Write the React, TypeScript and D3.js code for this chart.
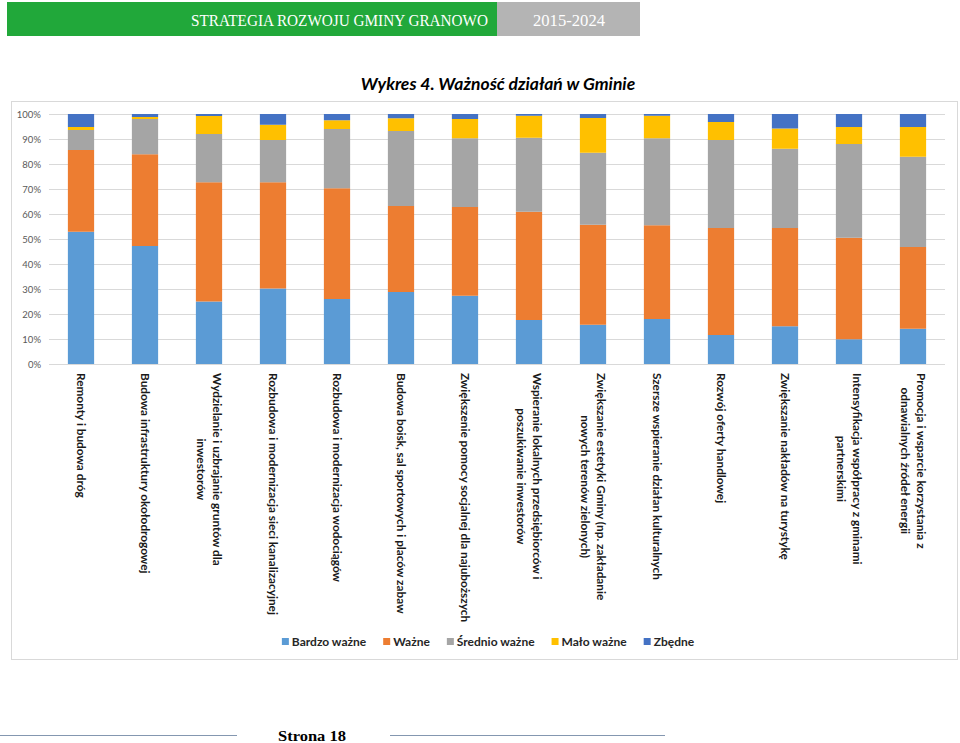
import React, { useEffect, useRef } from "react";
import * as d3 from "d3";

const categories: string[][] = [
  ["Remonty i budowa dróg"],
  ["Budowa infrastruktury okołodrogowej"],
  ["Wydzielanie i uzbrajanie gruntów dla", "inwestorów"],
  ["Rozbudowa i modernizacja sieci kanalizacyjnej"],
  ["Rozbudowa i modernizacja wodociągów"],
  ["Budowa boisk, sal sportowych i placów zabaw"],
  ["Zwiększenie pomocy socjalnej dla najuboższych"],
  ["Wspieranie lokalnych przedsiębiorców i", "poszukiwanie inwestorów"],
  ["Zwiększanie estetyki Gminy (np. zakładanie", "nowych terenów zielonych)"],
  ["Szersze wspieranie działan kulturalnych"],
  ["Rozwój oferty handlowej"],
  ["Zwiększanie nakładów na turystykę"],
  ["Intensyfikacja współpracy z gminami", "partnerskimi"],
  ["Promocja i wsparcie korzystania z", "odnawialnych źródeł energii"],
];

const seriesNames = ["Bardzo ważne", "Ważne", "Średnio ważne", "Mało ważne", "Zbędne"];
const seriesColors = ["#5B9BD5", "#ED7D31", "#A5A5A5", "#FFC000", "#4472C4"];

const bardzoWazne = [52.9, 47.2, 25.0, 30.2, 26.0, 28.8, 27.3, 17.6, 15.7, 18.0, 11.6, 15.1, 9.9, 14.1];
const wazne = [32.7, 36.7, 47.7, 42.5, 44.3, 34.4, 35.5, 43.3, 40.0, 37.5, 42.8, 39.3, 40.6, 32.7];
const srednioWazne = [8.0, 14.1, 19.3, 16.9, 23.7, 30.0, 27.5, 29.6, 28.8, 34.8, 35.2, 31.7, 37.5, 36.1];
const maloWazne = [1.2, 0.8, 7.2, 6.1, 3.5, 5.1, 7.7, 8.8, 13.9, 9.0, 7.2, 8.1, 6.8, 11.9];
const zbedne = [5.2, 1.2, 0.8, 4.3, 2.5, 1.7, 2.0, 0.7, 1.6, 0.7, 3.2, 5.8, 5.2, 5.2];

const yTicks = [0, 10, 20, 30, 40, 50, 60, 70, 80, 90, 100];

const FONT = "Lato, 'Open Sans', sans-serif";

export default function App() {
  const ref = useRef<SVGSVGElement | null>(null);

  useEffect(() => {
    const svg = d3.select(ref.current);
    svg.selectAll("*").remove();

    // Header
    svg.append("rect").attr("x", 7).attr("y", 2).attr("width", 490).attr("height", 34).attr("fill", "#21A83A");
    svg.append("rect").attr("x", 497).attr("y", 2).attr("width", 143).attr("height", 34).attr("fill", "#B4B4B4");
    svg.append("text").attr("x", 191).attr("y", 26).attr("text-anchor", "start")
      .attr("font-family", "'Liberation Serif', serif").attr("font-size", 17).attr("fill", "#fff")
      .attr("textLength", 297).attr("lengthAdjust", "spacingAndGlyphs")
      .text("STRATEGIA ROZWOJU GMINY GRANOWO");
    svg.append("text").attr("x", 533).attr("y", 26).attr("text-anchor", "start")
      .attr("font-family", "'Liberation Serif', serif").attr("font-size", 17).attr("fill", "#fff")
      .attr("textLength", 72).attr("lengthAdjust", "spacingAndGlyphs")
      .text("2015-2024");

    // Title
    svg.append("text").attr("x", 498).attr("y", 90).attr("text-anchor", "middle")
      .attr("font-family", FONT).attr("font-size", 17.5).attr("font-weight", "bold").attr("font-style", "italic")
      .attr("fill", "#000").text("Wykres 4. Ważność działań w Gminie");

    // Chart border
    svg.append("rect").attr("x", 11.5).attr("y", 101.5).attr("width", 946).attr("height", 558)
      .attr("fill", "#fff").attr("stroke", "#D9D9D9");

    const x = d3.scaleBand<number>().domain(d3.range(categories.length)).range([49, 945])
      .paddingInner(0.59).paddingOuter(0.295);
    const y = d3.scaleLinear().domain([0, 100]).range([364, 114]);

    // grid
    svg.append("g").selectAll("line").data(yTicks).join("line")
      .attr("x1", 49).attr("x2", 945)
      .attr("y1", d => Math.round(y(d)) + 0.5).attr("y2", d => Math.round(y(d)) + 0.5)
      .attr("stroke", "#D9D9D9").attr("stroke-width", 1);

    svg.append("g").selectAll("text").data(yTicks).join("text")
      .attr("x", 41).attr("y", d => y(d) + 3.5).attr("text-anchor", "end")
      .attr("font-family", FONT).attr("font-size", 9.5).attr("fill", "#595959")
      .text(d => `${d}%`);

    // stacked bars
    const seriesArrays = [bardzoWazne, wazne, srednioWazne, maloWazne, zbedne];
    const rows = categories.map((_, i) => {
      const r: Record<string, number> = {};
      seriesArrays.forEach((arr, s) => (r[seriesNames[s]] = arr[i]));
      return r;
    });
    const stack = d3.stack<Record<string, number>>().keys(seriesNames).offset(d3.stackOffsetExpand);
    const stacked = stack(rows);

    svg.append("g").selectAll("g").data(stacked).join("g")
      .attr("fill", (_, i) => seriesColors[i])
      .selectAll("rect").data(d => d.map((v, i) => ({ v, i }))).join("rect")
      .attr("x", d => x(d.i)!).attr("width", x.bandwidth())
      .attr("y", d => y(d.v[1] * 100)).attr("height", d => y(d.v[0] * 100) - y(d.v[1] * 100));

    // x labels
    const fs = 11.8;
    const lh = 16;
    const labG = svg.append("g");
    categories.forEach((lines, i) => {
      const cx = x(i)! + x.bandwidth() / 2;
      const g = labG.append("g").attr("transform", `translate(${cx},373) rotate(90)`);
      const n = lines.length;
      const texts = lines.map((ln, k) =>
        g.append("text").attr("font-family", FONT).attr("font-size", fs).attr("font-weight", "bold")
          .attr("fill", "#1a1a1a")
          .attr("y", (k - (n - 1) / 2) * lh + 0.35 * fs).text(ln)
      );
      const maxW = d3.max(texts, t => (t.node() as SVGTextElement).getComputedTextLength()) || 0;
      texts.forEach(t => t.attr("x", maxW / 2).attr("text-anchor", "middle"));
    });

    // legend
    const legG = svg.append("g");
    const items = seriesNames.map((name, i) => {
      const g = legG.append("g");
      g.append("rect").attr("width", 7).attr("height", 7).attr("y", -8).attr("fill", seriesColors[i]);
      const t = g.append("text").attr("x", 10).attr("y", 0).attr("font-family", FONT)
        .attr("font-size", 12).attr("font-weight", "bold").attr("fill", "#262626").text(name);
      return { g, w: 10 + (t.node() as SVGTextElement).getComputedTextLength() };
    });
    const gap = 17;
    const total = d3.sum(items, d => d.w) + gap * (items.length - 1);
    let lx = 488 - total / 2;
    items.forEach(it => {
      it.g.attr("transform", `translate(${lx},646)`);
      lx += it.w + gap;
    });

    // footer
    svg.append("line").attr("x1", 0).attr("x2", 237).attr("y1", 735.5).attr("y2", 735.5).attr("stroke", "#8497B0");
    svg.append("line").attr("x1", 390).attr("x2", 665).attr("y1", 735.5).attr("y2", 735.5).attr("stroke", "#8497B0");
    svg.append("text").attr("x", 312).attr("y", 741).attr("text-anchor", "middle")
      .attr("font-family", "'Liberation Serif', serif").attr("font-size", 15).attr("font-weight", "bold")
      .attr("fill", "#000").attr("textLength", 68).attr("lengthAdjust", "spacingAndGlyphs").text("Strona 18");
  }, []);

  return (
    <svg ref={ref} width={960} height={743} style={{ position: "absolute", left: 0, top: 0, background: "#fff" }} />
  );
}
